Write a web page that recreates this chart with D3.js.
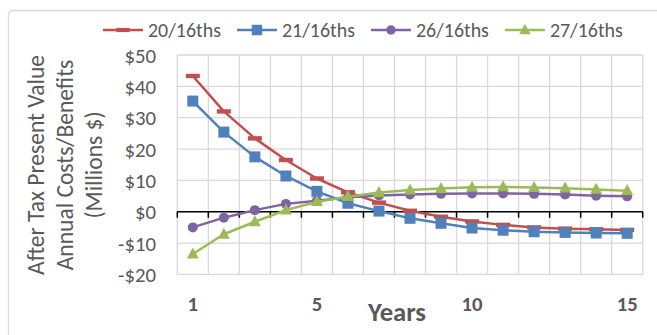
<!DOCTYPE html>
<html>
<head>
<meta charset="utf-8">
<script src="https://cdn.jsdelivr.net/npm/d3@7"></script>
<style>
  html, body { margin: 0; padding: 0; background: #fff; }
  svg { display: block; }
  text { font-family: Carlito, Calibri, Lato, "Open Sans", sans-serif; fill: #595959; }
</style>
</head>
<body>
<svg id="chart" width="657" height="335"></svg>
<script>
// ---- data ----
const categories = [1,2,3,4,5,6,7,8,9,10,11,12,13,14,15];
const xTickLabels = ["1","5","10","15"];
const yTicks = [-20,-10,0,10,20,30,40,50];
const seriesNames = ["20/16ths","21/16ths","26/16ths","27/16ths"];
const s20 = [43.3, 32.0, 23.4, 16.5, 10.6, 6.2, 2.9, 0.3, -1.6, -3.1, -4.2, -5.0, -5.4, -5.6, -5.8];
const s21 = [35.3, 25.4, 17.5, 11.4, 6.5, 2.7, 0.2, -2.1, -3.7, -5.2, -5.9, -6.4, -6.6, -6.8, -6.9];
const s26 = [-5.0, -1.9, 0.5, 2.5, 3.5, 4.6, 5.2, 5.5, 5.7, 5.8, 5.8, 5.7, 5.5, 5.1, 4.9];
const s27 = [-13.5, -7.2, -3.2, 0.5, 3.2, 4.8, 6.1, 6.9, 7.4, 7.8, 7.9, 7.7, 7.5, 7.1, 6.7];
const seriesValues = [s20, s21, s26, s27];
const colors = ["#C0504D", "#4F81BD", "#8064A2", "#9BBB59"];
const markers = ["dash", "square", "circle", "triangle"];
const yTitleLines = ["After Tax Present Value", "Annual Costs/Benefits", "(Millions $)"];
const xTitle = "Years";

// ---- layout ----
const svg = d3.select("#chart");
const plot = { left: 177.3, right: 642.7, top: 55, bottom: 274.4 };

// helper: fit font size so a reference text reaches a target width
function fitSize(sample, target, weight, base) {
  const t = svg.append("text").attr("font-size", base).attr("font-weight", weight).text(sample);
  const w = t.node().getComputedTextLength();
  t.remove();
  return base * target / w;
}
const fsLegend = fitSize("20/16ths", 73, "normal", 20);
const fsYTick = fitSize("-$20", 38, "normal", 20);
const fsYTitle = fitSize("After Tax Present Value", 220, "normal", 20);
const fsXTick = fitSize("10", 21, "bold", 20);
const fsXTitle = fitSize("Years", 58, "bold", 24);

// chart border
svg.append("rect").attr("x", 8.5).attr("y", 10.5).attr("width", 700).attr("height", 400)
  .attr("rx", 4).attr("fill", "#fff").attr("stroke", "#d9d9d9").attr("stroke-width", 1.3);

const x = d3.scaleBand().domain(categories).range([plot.left, plot.right]).padding(0);
const y = d3.scaleLinear().domain([-20, 50]).range([plot.bottom, plot.top]);
const cx = d => x(d) + x.bandwidth() / 2;

// gridlines
const grid = svg.append("g");
grid.selectAll("line.h").data(yTicks).join("line")
  .attr("x1", plot.left).attr("x2", plot.right)
  .attr("y1", d => y(d)).attr("y2", d => y(d))
  .attr("stroke", "#d9d9d9").attr("stroke-width", 1.3);
const bounds = categories.map(c => x(c)).concat([plot.right]);
grid.selectAll("line.v").data(bounds).join("line")
  .attr("x1", d => d).attr("x2", d => d)
  .attr("y1", plot.top).attr("y2", plot.bottom)
  .attr("stroke", "#d9d9d9").attr("stroke-width", 1.3);

// y axis labels
const yAxis = d3.axisLeft(y).tickValues(yTicks).tickSize(0).tickPadding(0)
  .tickFormat(d => (d < 0 ? "-$" + Math.abs(d) : "$" + d));
const gy = svg.append("g").attr("transform", `translate(156,0)`).call(yAxis);
gy.select(".domain").remove();
gy.selectAll("text").attr("font-size", fsYTick).attr("fill", "#595959")
  .style("font-family", null).attr("font-family", null).attr("dy", "0.35em").attr("x", 0);

// zero axis line with ticks
const xAxis = d3.axisBottom(x).tickSize(0).tickFormat("");
const gx = svg.append("g").attr("transform", `translate(0,${y(0)})`);
gx.append("line").attr("x1", plot.left).attr("x2", plot.right).attr("y1", 0).attr("y2", 0)
  .attr("stroke", "#000").attr("stroke-width", 1.5);
gx.selectAll("line.tk").data(bounds).join("line")
  .attr("x1", d => d).attr("x2", d => d).attr("y1", 0).attr("y2", 6)
  .attr("stroke", "#000").attr("stroke-width", 1.5);

// x tick labels (low position)
const gxl = svg.append("g").attr("transform", `translate(0,${plot.bottom})`)
  .call(d3.axisBottom(x).tickValues(xTickLabels.map(Number)).tickSize(0).tickPadding(0));
gxl.select(".domain").remove();
gxl.selectAll("text").attr("y", 29).attr("dy", "0.35em")
  .attr("font-size", fsXTick).attr("font-weight", "bold").attr("fill", "#595959")
  .attr("font-family", null);

// x title
svg.append("text").attr("x", 397).attr("y", 312).attr("dy", "0.35em")
  .attr("text-anchor", "middle").attr("font-size", fsXTitle).attr("font-weight", "bold")
  .text(xTitle);

// y title
const yTitleX = [36, 65, 94];
yTitleLines.forEach((t, i) => {
  svg.append("text").attr("transform", `translate(${yTitleX[i]},165) rotate(-90)`)
    .attr("text-anchor", "middle").attr("dy", "0.35em").attr("font-size", fsYTitle).text(t);
});

// marker drawing
function drawMarker(g, type, color, px, py, scale) {
  const s = scale || 1;
  if (type === "dash") {
    g.append("rect").attr("x", px - 7 * s).attr("y", py - 2.2 * s).attr("width", 14 * s).attr("height", 4.4 * s).attr("fill", color);
  } else if (type === "square") {
    g.append("rect").attr("x", px - 5.5 * s).attr("y", py - 5.5 * s).attr("width", 11 * s).attr("height", 11 * s).attr("fill", color);
  } else if (type === "circle") {
    g.append("circle").attr("cx", px).attr("cy", py).attr("r", 5 * s).attr("fill", color);
  } else {
    const h = 11 * s, w = 12 * s;
    g.append("path").attr("d", `M${px},${py - h * 0.6}L${px + w / 2},${py + h * 0.4}L${px - w / 2},${py + h * 0.4}Z`).attr("fill", color);
  }
}

// series
const line = d3.line().x((d, i) => cx(categories[i])).y(d => y(d));
seriesValues.forEach((vals, si) => {
  const g = svg.append("g");
  g.append("path").attr("d", line(vals)).attr("fill", "none")
    .attr("stroke", colors[si]).attr("stroke-width", 2.5).attr("stroke-linejoin", "round");
  vals.forEach((v, i) => drawMarker(g, markers[si], colors[si], cx(categories[i]), y(v)));
});

// legend
const lg = svg.append("g");
let lx = 103;
const ly = 30;
seriesNames.forEach((name, si) => {
  lg.append("line").attr("x1", lx).attr("x2", lx + 40).attr("y1", ly).attr("y2", ly)
    .attr("stroke", colors[si]).attr("stroke-width", 2.5);
  drawMarker(lg, markers[si], colors[si], lx + 20, ly, 0.95);
  const t = lg.append("text").attr("x", lx + 45).attr("y", ly).attr("dy", "0.35em")
    .attr("font-size", fsLegend).text(name);
  lx += 45 + t.node().getComputedTextLength() + 16;
});
</script>
</body>
</html>
